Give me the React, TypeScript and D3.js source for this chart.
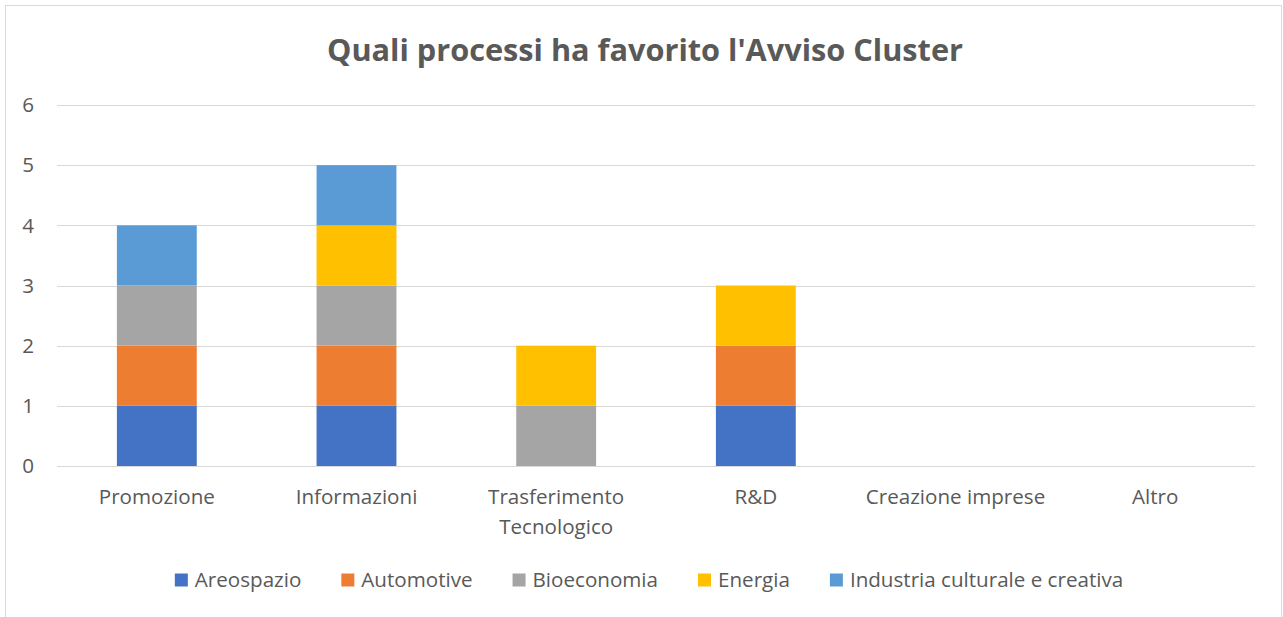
import React, { useEffect, useRef } from "react";
import * as d3 from "d3";

const categories = ["Promozione", "Informazioni", "Trasferimento Tecnologico", "R&D", "Creazione imprese", "Altro"];
const seriesNames = ["Areospazio", "Automotive", "Bioeconomia", "Energia", "Industria culturale e creativa"];
const areospazio = [1, 1, 0, 1, 0, 0];
const automotive = [1, 1, 0, 1, 0, 0];
const bioeconomia = [1, 1, 1, 0, 0, 0];
const energia = [0, 1, 1, 1, 0, 0];
const industria = [1, 1, 0, 0, 0, 0];
const yTicks = [0, 1, 2, 3, 4, 5, 6];
const colors = ["#4472C4", "#ED7D31", "#A5A5A5", "#FFC000", "#5B9BD5"];
const title = "Quali processi ha favorito l'Avviso Cluster";

const W = 1283;
const H = 617;
const FONT = "'Open Sans', sans-serif";
const TEXT = "#595959";
const LABEL_SIZE = 20.6;

export default function App() {
  const ref = useRef<SVGSVGElement>(null);

  useEffect(() => {
    const svg = d3.select(ref.current);
    svg.selectAll("*").remove();

    const values = [areospazio, automotive, bioeconomia, energia, industria];
    const rows = categories.map((c, i) => {
      const r: any = { cat: c };
      seriesNames.forEach((s, j) => (r[s] = values[j][i]));
      return r;
    });
    const stacked = d3.stack<any>().keys(seriesNames)(rows);

    const m = { left: 57, right: 1255, top: 105, bottom: 466 };
    const x = d3.scaleBand<string>().domain(categories).range([m.left, m.right]).paddingInner(0.6).paddingOuter(0.3);
    const y = d3.scaleLinear().domain([0, 6]).range([m.bottom, m.top]);

    // chart border
    svg.append("rect").attr("x", 5.5).attr("y", 5.5).attr("width", W - 7).attr("height", H + 10)
      .attr("fill", "#fff").attr("stroke", "#d9d9d9").attr("stroke-width", 1);

    // title
    svg.append("text").attr("x", 645).attr("y", 61).attr("text-anchor", "middle")
      .attr("font-family", FONT).attr("font-weight", "bold").attr("font-size", 30.7)
      .attr("fill", TEXT).text(title);

    // gridlines
    svg.append("g").selectAll("line").data(yTicks).join("line")
      .attr("x1", m.left).attr("x2", m.right)
      .attr("y1", (d) => Math.round(y(d)) + 0.5).attr("y2", (d) => Math.round(y(d)) + 0.5)
      .attr("stroke", "#d9d9d9").attr("stroke-width", 1);

    // y labels
    svg.append("g").selectAll("text").data(yTicks).join("text")
      .attr("x", 34).attr("y", (d) => y(d)).attr("dy", "0.35em").attr("text-anchor", "end")
      .attr("font-family", FONT).attr("font-size", LABEL_SIZE).attr("fill", TEXT).text((d) => d);

    // bars
    const g = svg.append("g");
    stacked.forEach((layer, j) => {
      g.append("g").attr("fill", colors[j]).selectAll("rect").data(layer.filter((d) => d[1] - d[0] > 0)).join("rect")
        .attr("x", (d: any) => x(d.data.cat)!).attr("width", x.bandwidth())
        .attr("y", (d) => y(d[1])).attr("height", (d) => y(d[0]) - y(d[1]));
    });

    // x labels with wrap
    const step = x.step();
    categories.forEach((c) => {
      const cx = x(c)! + x.bandwidth() / 2;
      const t = svg.append("text").attr("x", cx).attr("y", 504).attr("text-anchor", "middle")
        .attr("font-family", FONT).attr("font-size", LABEL_SIZE).attr("fill", TEXT);
      t.text(c);
      const w = (t.node() as SVGTextElement).getComputedTextLength();
      if (w > step) {
        t.text("");
        const words = c.split(" ");
        words.forEach((wd, i) => {
          t.append("tspan").attr("x", cx).attr("dy", i === 0 ? 0 : 30).text(wd);
        });
      }
    });

    // legend
    const lg = svg.append("g");
    const items: { g: any; w: number }[] = [];
    seriesNames.forEach((s, j) => {
      const ig = lg.append("g");
      ig.append("rect").attr("x", 0).attr("y", -6.5).attr("width", 13).attr("height", 13).attr("fill", colors[j]);
      const t = ig.append("text").attr("x", 20).attr("y", 0).attr("dy", "0.35em")
        .attr("font-family", FONT).attr("font-size", LABEL_SIZE).attr("fill", TEXT).text(s);
      const w = 20 + (t.node() as SVGTextElement).getComputedTextLength();
      items.push({ g: ig, w });
    });
    const gap = 40;
    const total = d3.sum(items, (d) => d.w) + gap * (items.length - 1);
    let cur = 649 - total / 2;
    items.forEach((it) => {
      it.g.attr("transform", `translate(${cur},580)`);
      cur += it.w + gap;
    });
  }, []);

  return (
    <svg ref={ref} width={W} height={H} style={{ position: "absolute", left: 0, top: 0, background: "#fff" }} />
  );
}
